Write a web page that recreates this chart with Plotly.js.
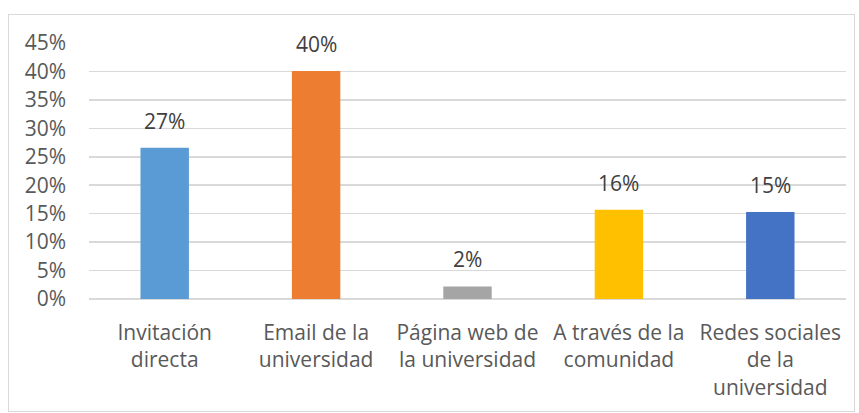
<!DOCTYPE html>
<html>
<head>
<meta charset="utf-8">
<script src="https://cdn.plot.ly/plotly-3.0.1.min.js"></script>
<style>
html,body{margin:0;padding:0;background:#fff;}
#wrap{position:relative;width:859px;height:413px;}
#frame{position:absolute;left:8px;top:14px;width:845px;height:396px;border:1px solid #d9d9d9;pointer-events:none;}
#chart{position:absolute;left:0;top:0;width:859px;height:413px;}
</style>
</head>
<body>
<div id="wrap"><div id="chart"></div><div id="frame"></div></div>
<script>
const categories = ["Invitación<br>directa", "Email de la<br>universidad", "Página web de<br>la universidad", "A través de la<br>comunidad", "Redes sociales<br>de la<br>universidad"];
const values = [0.266, 0.401, 0.022, 0.157, 0.153];
const colors = ["#5B9BD5", "#ED7D31", "#A5A5A5", "#FFC000", "#4472C4"];
const tickVals = [0, 0.05, 0.10, 0.15, 0.20, 0.25, 0.30, 0.35, 0.40, 0.45];
const tickText = ["0%", "5%", "10%", "15%", "20%", "25%", "30%", "35%", "40%", "45%"];

const FONT = "Open Sans, Noto Sans, Liberation Sans, sans-serif";
const trace = {
  type: "bar",
  x: categories,
  y: values,
  marker: {color: colors},
  hoverinfo: "none"
};
const annotations = categories.map((c, i) => ({
  x: c, y: values[i], xref: "x", yref: "y",
  text: Math.round(values[i] * 100) + "%",
  showarrow: false, yanchor: "bottom", yshift: 11,
  font: {family: FONT, size: 21, color: "#404040"}
}));
const layout = {
  width: 859, height: 413,
  margin: {l: 89, r: 13, t: 43, b: 114},
  paper_bgcolor: "rgba(0,0,0,0)",
  plot_bgcolor: "#fff",
  showlegend: false,
  bargap: 0.68,
  font: {family: FONT, size: 21, color: "#595959"},
  xaxis: {
    type: "category",
    showgrid: false, zeroline: false,
    showline: false, ticks: "",
    ticklabelstandoff: 19,
    tickfont: {family: FONT, size: 21, color: "#595959"}
  },
  yaxis: {
    range: [0, 0.45],
    tickvals: tickVals, ticktext: tickText,
    showgrid: true, gridcolor: "#d9d9d9", gridwidth: 1.5,
    zeroline: true, zerolinecolor: "#d9d9d9", zerolinewidth: 1.5,
    showline: false, ticks: "",
    ticklabelstandoff: 22,
    tickfont: {family: FONT, size: 21, color: "#595959"}
  },
  annotations: annotations
};
Plotly.newPlot("chart", [trace], layout, {staticPlot: true, displayModeBar: false});
</script>
</body>
</html>
